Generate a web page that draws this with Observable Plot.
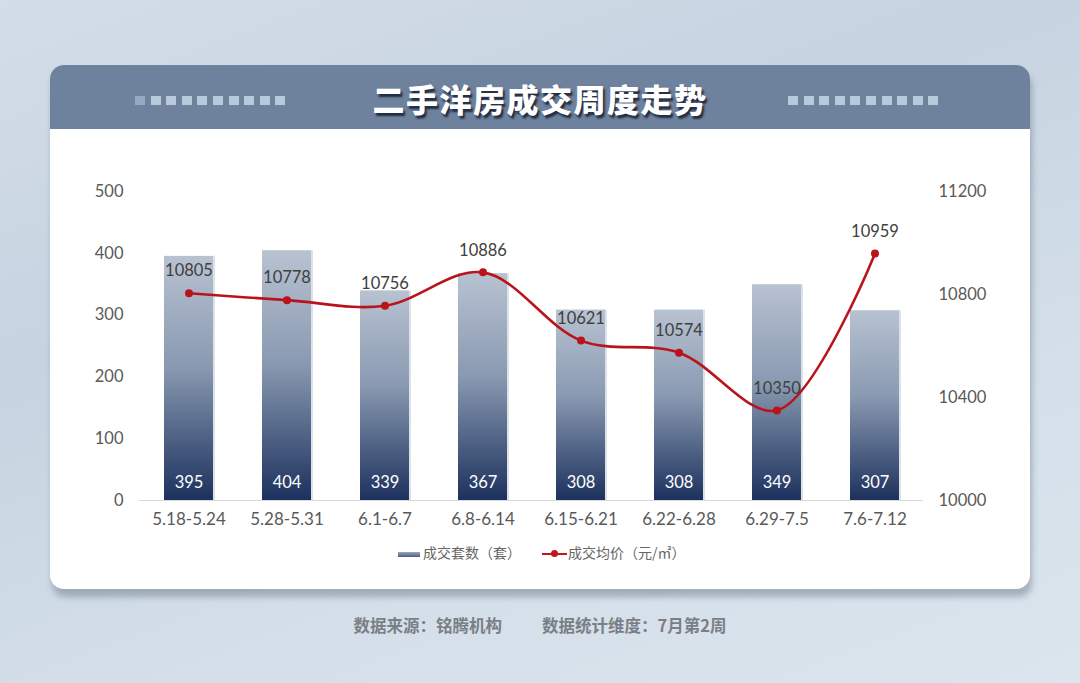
<!DOCTYPE html>
<html><head><meta charset="utf-8">
<script src="https://cdn.jsdelivr.net/npm/d3@7"></script>
<script src="https://cdn.jsdelivr.net/npm/@observablehq/plot@0.6"></script>
<style>
html,body{margin:0;padding:0;}
body{width:1080px;height:683px;overflow:hidden;position:relative;font-family:Lato,"Noto Sans CJK SC",sans-serif;
 background:linear-gradient(160deg,#d3dde8 0%,#c6d3e0 35%,#d4dfe9 70%,#dbe5ee 100%);}
#card{position:absolute;left:50px;top:65px;width:980px;height:524px;background:#fff;border-radius:14px;
 box-shadow:2px 8px 6px rgba(70,80,100,0.35);overflow:hidden;}
#header{position:absolute;left:0;top:0;width:980px;height:64px;background:#6e819d;}
#title{position:absolute;left:0;top:0;width:980px;height:64px;line-height:66px;text-align:center;color:#fff;
 font-family:"Noto Sans CJK SC",sans-serif;font-weight:900;font-size:32px;letter-spacing:1.5px;
 text-shadow:2px 3px 2px rgba(20,30,50,0.85);}
.sq{position:absolute;top:31px;width:10px;height:9px;background:#b9c9dd;}
#chart{position:absolute;left:0;top:0;}
#legend{position:absolute;top:542px;left:0;width:1080px;height:22px;font-family:"Noto Sans CJK SC",sans-serif;font-size:14px;color:#666;}
#footer{position:absolute;top:613px;left:0;width:1080px;text-align:center;font-family:"Noto Sans CJK SC",sans-serif;font-size:16.5px;font-weight:700;color:#7a7f86;}
</style></head>
<body>
<div id="card"><div id="header"></div><div id="title">二手洋房成交周度走势</div></div>
<div id="chart"></div>
<div id="legend">
 <div style="position:absolute;left:398px;top:10px;width:22px;height:5px;background:linear-gradient(#9aa8bd,#4a5f82);"></div>
 <div style="position:absolute;left:423px;top:0px;">成交套数（套）</div>
 <div style="position:absolute;left:542px;top:11px;width:25px;height:2px;background:#c0161c;"></div>
 <div style="position:absolute;left:551px;top:8px;width:7px;height:7px;border-radius:50%;background:#c0161c;"></div>
 <div style="position:absolute;left:568px;top:0px;">成交均价（元/㎡）</div>
</div>
<div id="footer">数据来源：铭腾机构<span style="display:inline-block;width:40px"></span>数据统计维度：7月第2周</div>
<script>
const weeks = ["5.18-5.24","5.28-5.31","6.1-6.7","6.8-6.14","6.15-6.21","6.22-6.28","6.29-7.5","7.6-7.12"];
const counts = [395,404,339,367,308,308,349,307];
const prices = [10805,10778,10756,10886,10621,10574,10350,10959];
const countTicks = [0,100,200,300,400,500];
const priceTicks = [10000,10400,10800,11200];
const priceMin = 10000, priceMax = 11200, countMax = 500;

const toLeft = p => (p - priceMin) / (priceMax - priceMin) * countMax;
const fromLeft = v => String(Math.round(priceMin + v * (priceMax - priceMin) / countMax));
const data = weeks.map((w,i) => ({week:w, count:counts[i], price:prices[i], py:toLeft(prices[i])}));

// decorative squares
const card = document.getElementById("card");
for (let i=0;i<10;i++){
  for (const start of [85, 738]){
    const s=document.createElement("div"); s.className="sq";
    s.style.left=(start+i*15.6)+"px";
    s.style.opacity = (start===85 && i===0) ? 0.55 : 1;
    card.appendChild(s);
  }
}

const font = "Lato, 'Noto Sans CJK SC', sans-serif";
const chart = Plot.plot({
  width:1080, height:545,
  marginLeft:139, marginRight:157, marginTop:191, marginBottom:45,
  style:{fontFamily:font, fontSize:"16px", color:"#595959", background:"transparent", overflow:"visible"},
  x:{domain:weeks, paddingInner:0.5, paddingOuter:0.25, label:null},
  y:{domain:[0,countMax], label:null},
  marks:[
    Plot.axisY(countTicks, {anchor:"left", tickSize:0, tickPadding:16, fontSize:16.5, fill:"#595959", label:null}),
    Plot.axisY(priceTicks.map(toLeft), {anchor:"right", tickSize:0, tickPadding:15, fontSize:16.5, fill:"#595959", tickFormat:fromLeft, label:null}),
    Plot.axisX({anchor:"bottom", tickSize:0, tickPadding:12, fontSize:17, fill:"#595959", label:null}),
    Plot.barY(data, {x:"week", y:"count", fill:"#dde1e8", dx:2}),
    Plot.barY(data, {x:"week", y:"count", fill:"url(#barGrad)"}),
    Plot.ruleY([0], {stroke:"#d9d9d9", strokeWidth:1.2}),
    Plot.text(data, {x:"week", y:0, text:d=>String(d.count), dy:-18, fill:"#ffffff", fontSize:16.5}),
    Plot.line(data, {x:"week", y:"py", curve:"catmull-rom", stroke:"#b9141c", strokeWidth:2.6}),
    Plot.dot(data, {x:"week", y:"py", r:4, fill:"#b9141c"}),
    Plot.text(data, {x:"week", y:"py", text:d=>String(d.price), dy:-22, fill:"#404040", fontSize:16.5})
  ]
});
const svg = d3.select(chart);
const defs = svg.insert("defs", ":first-child");
const g = defs.append("linearGradient").attr("id","barGrad").attr("x1",0).attr("y1",0).attr("x2",0).attr("y2",1);
g.append("stop").attr("offset","0%").attr("stop-color","#b8c2d1");
g.append("stop").attr("offset","45%").attr("stop-color","#8a9ab2");
g.append("stop").attr("offset","100%").attr("stop-color","#1c315d");
document.getElementById("chart").appendChild(chart);
</script>
</body></html>
